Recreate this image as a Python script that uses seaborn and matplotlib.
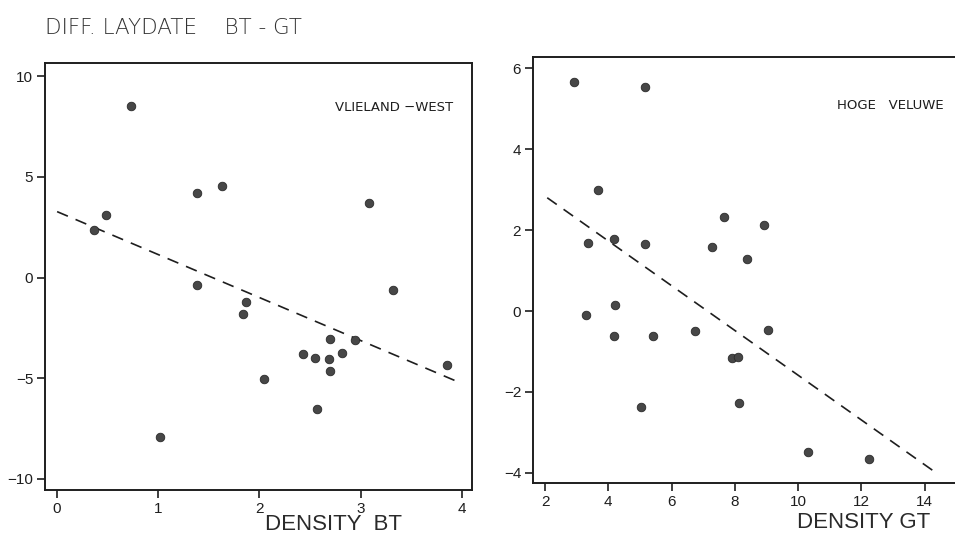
import numpy as np
import pandas as pd
import matplotlib
matplotlib.use("Agg")
import matplotlib.pyplot as plt
import seaborn as sns

# ---- data ----
vl_density_bt = [0.36, 0.485, 0.73, 1.386, 1.627, 3.08, 1.386, 3.32,
                 1.87, 1.835, 2.43, 2.55, 2.69, 2.70, 2.82, 2.94, 2.70,
                 2.04, 2.57, 1.02, 3.85]
vl_diff = [2.34, 3.10, 8.49, 4.21, 4.54, 3.68, -0.36, -0.63,
           -1.23, -1.81, -3.80, -4.00, -4.03, -3.03, -3.77, -3.08, -4.66,
           -5.04, -6.52, -7.94, -4.36]
vl_line_x = [0.0, 3.99]
vl_line_y = [3.27, -5.24]

hv_density_gt = [2.92, 5.16, 3.68, 3.36, 4.18, 5.16, 7.29, 7.66, 8.91, 8.38,
                 3.31, 4.21, 4.17, 5.40, 6.73, 9.06, 7.91, 8.10, 5.03, 8.14,
                 10.30, 12.25]
hv_diff = [5.67, 5.54, 2.99, 1.69, 1.78, 1.65, 1.58, 2.32, 2.13, 1.28,
           -0.10, 0.16, -0.61, -0.61, -0.50, -0.47, -1.16, -1.13, -2.37, -2.27,
           -3.49, -3.66]
hv_line_x = [2.07, 14.36]
hv_line_y = [2.80, -4.00]

vl_xticks = [0, 1, 2, 3, 4]
vl_yticks = [-10, -5, 0, 5, 10]
hv_xticks = [2, 4, 6, 8, 10, 12, 14]
hv_yticks = [-4, -2, 0, 2, 4, 6]

sns.set_theme(style="white")
plt.rcParams['font.family'] = ['Liberation Sans', 'DejaVu Sans']

fig = plt.figure(figsize=(9.55, 5.42), dpi=100)
axL = fig.add_axes([0.0471, 0.0959, 0.4471, 0.7879])
axR = fig.add_axes([0.5581, 0.1089, 0.4500, 0.7860])

ink = "#1e1e1e"
dot = "#474747"

def style(ax, xticks, yticks, xlim, ylim):
    ax.set_xlim(*xlim)
    ax.set_ylim(*ylim)
    ax.set_xticks(xticks)
    ax.set_yticks(yticks)
    ax.set_xticklabels([str(t) for t in xticks])
    ax.set_yticklabels([str(t).replace('-', '\u2212') for t in yticks])
    ax.tick_params(axis='both', direction='out', length=6, width=1.2,
                   color=ink, labelsize=11, labelcolor=ink, pad=2.5,
                   left=True, bottom=True)
    for s in ax.spines.values():
        s.set_color(ink)
        s.set_linewidth(1.4)
    ax.set_xlabel("")
    ax.set_ylabel("")
    ax.set_facecolor("white")

# Left panel
dfL = pd.DataFrame({"x": vl_density_bt, "y": vl_diff})
sns.scatterplot(data=dfL, x="x", y="y", ax=axL, s=38, color=dot,
                edgecolor="#2a2a2a", linewidth=0.6, zorder=3)
sns.lineplot(x=vl_line_x, y=vl_line_y, ax=axL, color=ink, lw=1.2,
             dashes=False, linestyle=(0, (7, 5)))
style(axL, vl_xticks, vl_yticks, (-0.12, 4.1), (-10.55, 10.65))
axL.text(0.955, 0.895, "VLIELAND \u2212WEST", transform=axL.transAxes,
         ha='right', va='center', fontsize=9.5, color=ink,
         family=['DejaVu Sans'])

# Right panel
dfR = pd.DataFrame({"x": hv_density_gt, "y": hv_diff})
sns.scatterplot(data=dfR, x="x", y="y", ax=axR, s=38, color=dot,
                edgecolor="#2a2a2a", linewidth=0.6, zorder=3)
sns.lineplot(x=hv_line_x, y=hv_line_y, ax=axR, color=ink, lw=1.2,
             dashes=False, linestyle=(0, (7, 5)))
style(axR, hv_xticks, hv_yticks, (1.62, 15.2), (-4.25, 6.28))
axR.spines['right'].set_visible(False)
axR.text(0.955, 0.885, "HOGE   VELUWE", transform=axR.transAxes,
         ha='right', va='center', fontsize=9.5, color=ink,
         family=['DejaVu Sans'])

# Titles / axis labels
fig.text(0.047, 0.948, "DIFF. LAYDATE    BT - GT", fontsize=15.5,
         color="#333333", ha='left', va='center', family=['DejaVu Sans'],
         fontweight='light')
fig.text(0.349, 0.013, "DENSITY  BT", fontsize=16, color="#2a2a2a",
         ha='center', va='bottom')
fig.text(0.904, 0.016, "DENSITY GT", fontsize=16, color="#2a2a2a",
         ha='center', va='bottom')

fig.savefig("out.png", dpi=100)
